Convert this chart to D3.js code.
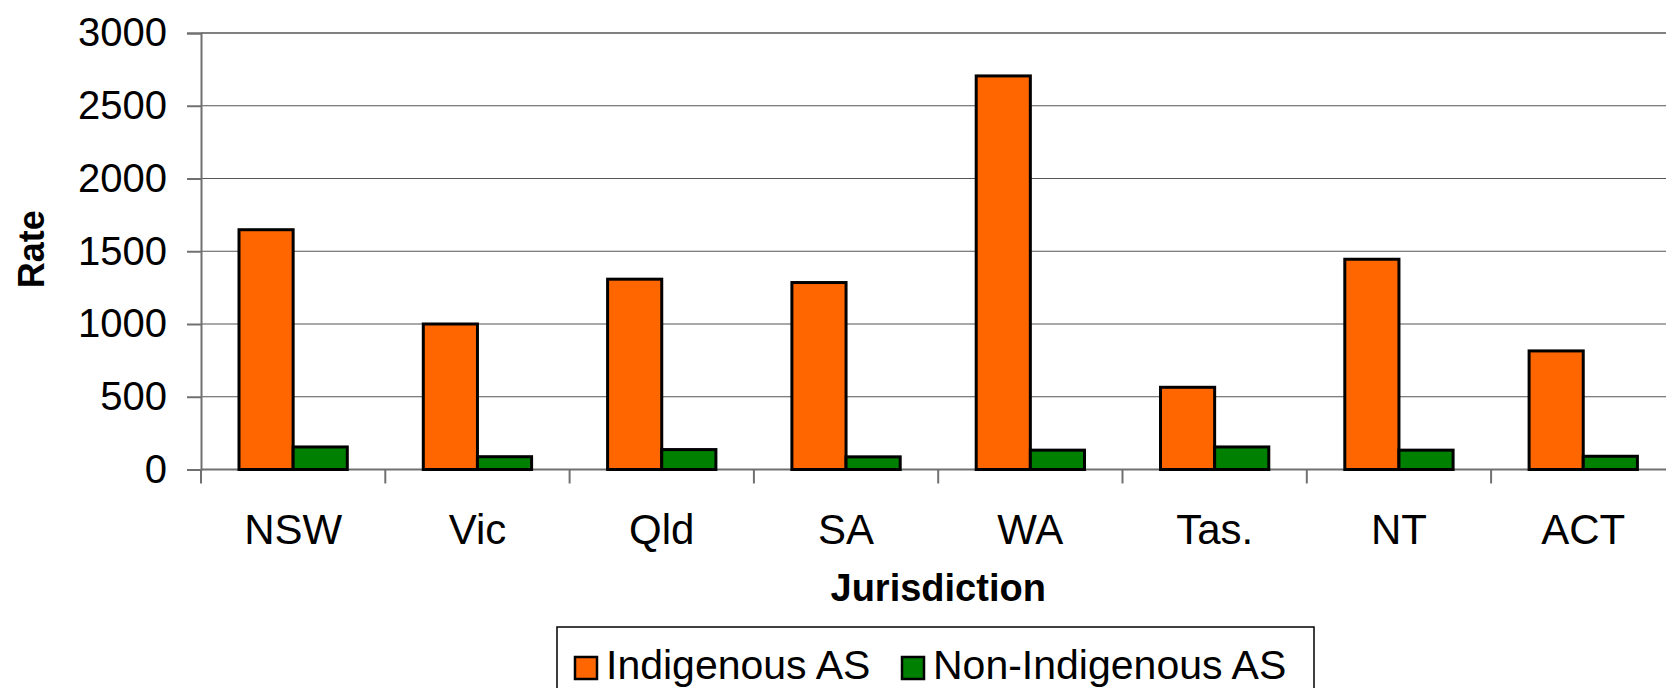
<!DOCTYPE html>
<html>
<head>
<meta charset="utf-8">
<script src="https://cdn.jsdelivr.net/npm/d3@7"></script>
<style>
  html, body { margin: 0; padding: 0; background: #fff; overflow: hidden; }
  svg { display: block; font-family: 'Liberation Sans', Arial, sans-serif; }
</style>
</head>
<body>
<svg width="1666" height="688"></svg>
<script>
const categories = ['NSW', 'Vic', 'Qld', 'SA', 'WA', 'Tas.', 'NT', 'ACT'];
const seriesNames = ['Indigenous AS', 'Non-Indigenous AS'];
const indigenous = [1648, 1000, 1308, 1285, 2705, 565, 1445, 815];
const nonIndigenous = [155, 88, 137, 87, 133, 155, 133, 91];
const yTicks = [0, 500, 1000, 1500, 2000, 2500, 3000];
const colors = ['#ff6600', '#008000'];

const svg = d3.select('svg');
const width = Number(svg.attr('width')), height = Number(svg.attr('height'));

const margin = { left: 201, top: 33 };
const bandW = 184.3;
const innerWidth = bandW * categories.length;   // plot runs a little past the right edge, as in the original
const visibleWidth = width - margin.left;
const innerHeight = 469.5 - margin.top;

const data = categories.map((c, i) => ({ cat: c, values: [indigenous[i], nonIndigenous[i]] }));

const xScale = d3.scaleBand().domain(categories).range([0, innerWidth]);
const xInner = d3.scaleBand().domain(seriesNames).range([38, bandW - 38]);
const yScale = d3.scaleLinear().domain([0, 3000]).range([innerHeight, 0]);

const g = svg.append('g').attr('transform', `translate(${margin.left},${margin.top})`);

// gridlines
g.append('g').selectAll('line').data(yTicks.filter(t => t > 0))
  .enter().append('line')
    .attr('x1', 0).attr('x2', visibleWidth)
    .attr('y1', d => yScale(d)).attr('y2', d => yScale(d))
    .attr('stroke', d => d === 3000 ? '#808080' : '#555')
    .attr('stroke-width', d => d === 3000 ? 2 : 1.2);

// y axis
const yAxis = g.append('g')
  .call(d3.axisLeft(yScale).tickValues(yTicks).tickSize(14).tickPadding(20).tickFormat(d3.format('d')));
yAxis.select('.domain').attr('stroke', '#707070').attr('stroke-width', 2);
yAxis.selectAll('.tick line').attr('stroke', '#707070').attr('stroke-width', 2);
yAxis.selectAll('.tick text').attr('font-size', 40).attr('fill', '#000')
  .attr('font-family', "'Liberation Sans', Arial, sans-serif");

// x axis baseline and ticks between categories
g.append('line')
  .attr('x1', 0).attr('x2', visibleWidth)
  .attr('y1', innerHeight).attr('y2', innerHeight)
  .attr('stroke', '#707070').attr('stroke-width', 2);
g.append('g').selectAll('line').data(categories.map(c => xScale(c)))
  .enter().append('line')
    .attr('x1', d => d).attr('x2', d => d)
    .attr('y1', innerHeight).attr('y2', innerHeight + 14)
    .attr('stroke', '#707070').attr('stroke-width', 2);

// category labels
g.append('g').selectAll('text').data(categories)
  .enter().append('text')
    .attr('x', d => xScale(d) + xScale.bandwidth() / 2)
    .attr('y', innerHeight + 74)
    .attr('text-anchor', 'middle')
    .attr('font-size', 42)
    .text(d => d);

// bars
const groups = g.append('g').selectAll('g').data(data)
  .enter().append('g')
    .attr('transform', d => `translate(${xScale(d.cat)},0)`);
groups.selectAll('rect').data(d => d.values.map((v, i) => ({ key: seriesNames[i], v, i })))
  .enter().append('rect')
    .attr('x', d => xInner(d.key))
    .attr('y', d => yScale(d.v))
    .attr('width', xInner.bandwidth())
    .attr('height', d => innerHeight - yScale(d.v))
    .attr('fill', d => colors[d.i])
    .attr('stroke', '#000')
    .attr('stroke-width', 3);

// axis titles
svg.append('text')
  .attr('transform', `translate(44,${margin.top + innerHeight / 2 - 2}) rotate(-90)`)
  .attr('text-anchor', 'middle')
  .attr('font-size', 36).attr('font-weight', 'bold')
  .text('Rate');
svg.append('text')
  .attr('x', margin.left + innerWidth / 2).attr('y', 601)
  .attr('text-anchor', 'middle')
  .attr('font-size', 38).attr('font-weight', 'bold')
  .text('Jurisdiction');

// legend (its lower edge is cut by the frame, as in the original)
const legend = svg.append('g');
legend.append('rect')
  .attr('x', 557).attr('y', 627).attr('width', 757).attr('height', 80)
  .attr('fill', '#fff').attr('stroke', '#000').attr('stroke-width', 1.5);
const legendX = [575, 902];
seriesNames.forEach((name, i) => {
  legend.append('rect')
    .attr('x', legendX[i]).attr('y', 657).attr('width', 22).attr('height', 22)
    .attr('fill', colors[i]).attr('stroke', '#000').attr('stroke-width', 2.5);
  legend.append('text')
    .attr('x', legendX[i] + 31).attr('y', 679)
    .attr('font-size', 41)
    .text(name);
});
</script>
</body>
</html>
